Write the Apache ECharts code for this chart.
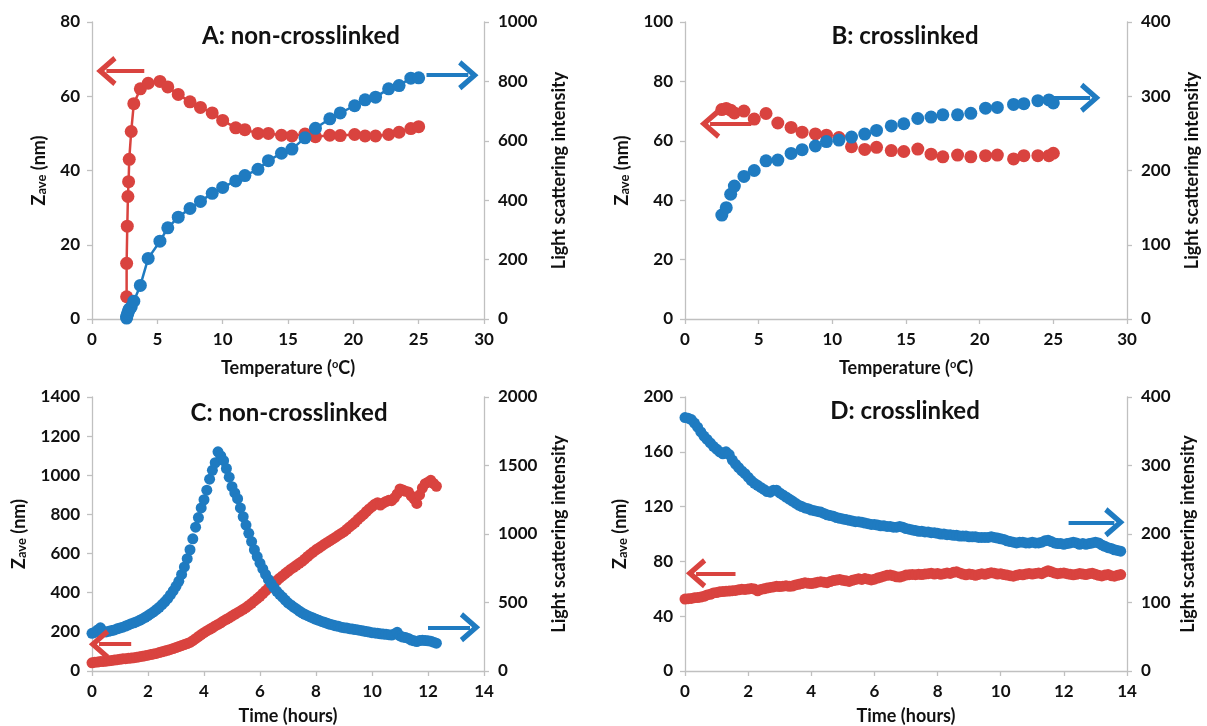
<!DOCTYPE html>
<html>
<head>
<meta charset="utf-8">
<script src="https://cdn.jsdelivr.net/npm/echarts@6/dist/echarts.min.js"></script>
<style>
  html, body { margin: 0; padding: 0; background: #fff; }
  #main { width: 1207px; height: 726px; }
</style>
</head>
<body>
<div id="main"></div>
<script>
// Panel A: non-crosslinked, heating
const tempA = [2.65,2.65,2.7,2.75,2.8,2.85,3.0,3.2,3.7,4.3,5.2,5.8,6.6,7.5,8.3,9.2,10.0,11.0,11.7,12.7,13.5,14.5,15.3,16.3,17.1,18.2,19.0,20.1,20.9,21.7,22.7,23.5,24.4,25.0];
const zaveA = [6,15,25,33,37,43,50.5,58,62,63.5,64,62.5,60.5,58.5,57,55.5,53.5,51.5,51,50,50,49.5,49.3,49.8,49.1,49.5,49.4,49.7,49.3,49.3,49.7,50.3,51.3,51.8];
const lightA = [3,8,14,20,27,33,40,60,113,204,262,307,343,372,396,423,443,465,483,504,533,558,572,610,642,674,694,718,738,747,775,786,811,812];

// Panel B: crosslinked, heating
const tempB = [2.5,2.8,3.1,3.35,4.0,4.7,5.5,6.3,7.2,7.95,8.85,9.6,10.45,11.3,12.2,13.0,14.0,14.85,15.8,16.7,17.5,18.5,19.4,20.4,21.2,22.3,23.0,23.95,24.7,25.0];
const zaveB = [70.5,70.9,70.3,69.4,70,67.3,69.2,66,64.5,62.9,62.3,61.9,61.1,58,57.1,57.8,56.7,56.4,57.2,55.5,54.6,55.2,54.6,55,55.2,53.9,55,55,55,55.8];
const lightB = [140,150,168,179,192,200,213,214,223,228,233,239,241,245,249,254,260,263,270,272,275,275,277,284,285,289,290,294,295,291];

// Panel C: non-crosslinked, time at 25 C
const timeC = [0,0.1,0.2,0.3,0.4,0.5,0.6,0.7,0.8,0.9,1,1.1,1.2,1.3,1.4,1.5,1.6,1.7,1.8,1.9,2,2.1,2.2,2.3,2.4,2.5,2.6,2.7,2.8,2.9,3,3.1,3.2,3.3,3.4,3.5,3.6,3.7,3.8,3.9,4,4.1,4.2,4.3,4.4,4.5,4.6,4.7,4.8,4.9,5,5.1,5.2,5.3,5.4,5.5,5.6,5.7,5.8,5.9,6,6.1,6.2,6.3,6.4,6.5,6.6,6.7,6.8,6.9,7,7.1,7.2,7.3,7.4,7.5,7.6,7.7,7.8,7.9,8,8.1,8.2,8.3,8.4,8.5,8.6,8.7,8.8,8.9,9,9.1,9.2,9.3,9.4,9.5,9.6,9.7,9.8,9.9,10,10.1,10.2,10.3,10.4,10.5,10.6,10.7,10.8,10.9,11,11.1,11.2,11.3,11.4,11.5,11.6,11.7,11.8,11.9,12,12.1,12.2,12.3];
const zaveC = [42,45,46,48,49,50,52,54,56,58,60,62,63,65,66,68,70,73,75,78,81,84,87,90,94,98,102,106,110,115,120,125,130,135,140,146,155,165,176,186,196,205,213,221,230,238,246,256,264,272,281,290,298,306,315,324,335,346,358,370,382,396,410,424,437,450,462,474,486,498,509,520,530,540,550,560,572,585,597,608,619,628,638,648,657,666,675,684,694,703,712,724,736,748,760,775,788,800,815,828,840,852,860,848,858,866,872,870,885,905,930,925,918,915,895,880,856,900,935,957,965,974,958,944];
const lightC = [275,282,300,315,290,285,290,295,300,308,314,320,328,336,345,352,360,370,380,392,405,418,432,448,465,485,505,528,555,585,618,655,705,760,820,885,965,1050,1120,1190,1250,1320,1400,1465,1520,1600,1570,1535,1478,1415,1345,1300,1258,1190,1126,1065,1005,945,885,835,787,745,705,668,637,608,582,560,540,518,498,482,467,453,438,425,414,404,395,386,377,370,362,355,348,341,336,330,326,320,316,313,309,306,303,300,296,292,288,284,280,278,275,272,270,268,265,262,270,282,256,248,244,238,226,220,215,222,225,222,220,218,210,203];

// Panel D: crosslinked, time at 25 C
const timeD = [0,0.1,0.2,0.3,0.4,0.5,0.6,0.7,0.8,0.9,1,1.1,1.2,1.3,1.4,1.5,1.6,1.7,1.8,1.9,2,2.1,2.2,2.3,2.4,2.5,2.6,2.7,2.8,2.9,3,3.1,3.2,3.3,3.4,3.5,3.6,3.7,3.8,3.9,4,4.1,4.2,4.3,4.4,4.5,4.6,4.7,4.8,4.9,5,5.1,5.2,5.3,5.4,5.5,5.6,5.7,5.8,5.9,6,6.1,6.2,6.3,6.4,6.5,6.6,6.7,6.8,6.9,7,7.1,7.2,7.3,7.4,7.5,7.6,7.7,7.8,7.9,8,8.1,8.2,8.3,8.4,8.5,8.6,8.7,8.8,8.9,9,9.1,9.2,9.3,9.4,9.5,9.6,9.7,9.8,9.9,10,10.1,10.2,10.3,10.4,10.5,10.6,10.7,10.8,10.9,11,11.1,11.2,11.3,11.4,11.5,11.6,11.7,11.8,11.9,12,12.1,12.2,12.3,12.4,12.5,12.6,12.7,12.8,12.9,13,13.1,13.2,13.3,13.4,13.5,13.6,13.7,13.8];
const zaveD = [52.5,52.8,53,53.5,53.6,54,54.5,55.5,56,57,57.3,57.8,58,58.3,58.4,58.6,58.8,59.3,59.6,59.5,59.8,60.2,59.8,58.5,59.5,60,60.5,61,61.4,61.8,61.6,61.9,62.2,61.8,62,62.8,63.3,63.8,64.5,64,63.8,64.2,64.8,65.2,64.8,64.5,65.3,66,66.4,66.8,66.2,65.8,65.4,66.2,66.8,67.3,66.8,67.5,67,66.5,67,67.8,68.5,69.2,69.8,70,69.5,68.8,68.6,69.2,70,70.3,70.5,70.3,70.6,70.4,70.8,71,71.4,70.8,71.2,70.6,71,71.6,71.2,72,72.4,71.6,70.8,70.2,70.8,70.4,69.8,70.5,71,70.6,71.2,71.8,71.4,70.8,71,70.4,70,69.6,69.2,69.8,70.4,70.2,70.8,71.2,70.8,71.2,71.6,71,72.2,73.2,72.4,71.6,71,71.4,71.6,71,70.6,70.2,70.6,71.2,70.8,70.4,71,71.4,70.6,69.8,69.4,70,70.4,69.6,69.2,69.8,70.4];
const lightD = [370,369,367,362,356,349,343,338,333,328,324,320,317,320,316,308,302,297,292,288,283,278,274,271,268,265,262,261,264,264,260,257,254,251,248,245,242,240,238,237,235,234,233,232,230,228,227,226,224,223,222,221,220,219,218,218,217,216,215,214,214,213,212,212,211,211,210,210,211,210,208,207,206,205,204,204,203,203,202,202,201,200,200,199,199,198,198,197,197,197,196,196,196,195,195,195,195,196,195,194,193,192,190,189,188,187,188,188,187,187,188,187,187,188,190,191,189,187,186,186,185,186,187,188,187,185,186,185,186,187,188,187,184,182,180,179,177,176,175];

// arrows: [x start, x end, y] in data units
const arrowA = { red: [4.0, 1.1, 66.8], blue: [25.6, 28.8, 821] };
const arrowB = { red: [4.5, 1.7, 65.7], blue: [24.6, 27.5, 298] };
const arrowC = { red: [1.4, 0.25, 137], blue: [12.0, 13.5, 319] };
const arrowD = { red: [1.6, 0.35, 71.3], blue: [12.15, 13.6, 217] };

const RED = '#d9433f';
const BLUE = '#1f7bc1';
const AXIS = '#c0c0c0';
const INK = '#111111';
const FONT = 'Lato';
// open chevron head, pointing up before markLine rotates it
const HEAD = 'path://M0,16 L14,0 L28,16 L24,19 L14,7.5 L4,19 Z';

const pairs = (xs, ys) => xs.map((x, i) => [x, ys[i]]);

const arrow = (a, color) => ({
    silent: true,
    animation: false,
    symbol: ['none', HEAD],
    symbolSize: 30,
    symbolKeepAspect: true,
    label: { show: false },
    lineStyle: { color: color, width: 4, type: 'solid' },
    data: [[{ coord: [a[0], a[2]] }, { coord: [a[1], a[2]] }]]
});

const grids = [
    { left: 92, right: 723, top: 22, bottom: 407 },
    { left: 685, right: 80, top: 22, bottom: 407 },
    { left: 92, right: 723, top: 397, bottom: 54 },
    { left: 685, right: 80, top: 397, bottom: 54 }
];

const tickStyle = { show: true, length: 5, lineStyle: { color: AXIS, width: 1.3 } };
const lineStyle = { show: true, lineStyle: { color: AXIS, width: 1.3 } };
const plain = v => String(v);
const labelStyle = (margin) => ({ fontFamily: FONT, fontSize: 17, fontWeight: 'bold', color: INK, margin: margin, formatter: plain });

const makeX = (g, max, interval, name, gap) => ({
    type: 'value', gridIndex: g, min: 0, max: max, interval: interval,
    axisLine: lineStyle, axisTick: tickStyle, splitLine: { show: false },
    axisLabel: labelStyle(12),
    name: name, nameLocation: 'middle', nameGap: gap, nameMoveOverlap: false,
    nameTextStyle: {
        fontFamily: FONT, fontSize: 18, fontWeight: 'bold', color: INK,
        rich: { sup: { fontFamily: FONT, fontSize: 11, fontWeight: 'bold', color: INK, verticalAlign: 'top', padding: [0, 0, 8, 0] } }
    }
});

const makeYL = (g, max, interval, gap) => ({
    type: 'value', gridIndex: g, position: 'left', min: 0, max: max, interval: interval,
    axisLine: lineStyle, axisTick: tickStyle, splitLine: { show: false },
    axisLabel: labelStyle(12),
    name: '{b|Z}{s|ave}{b| (nm)}', nameLocation: 'middle', nameGap: gap, nameRotate: 90, nameMoveOverlap: false,
    nameTextStyle: {
        fontFamily: FONT, fontSize: 18, fontWeight: 'bold', color: INK,
        rich: {
            b: { fontFamily: FONT, fontSize: 18, fontWeight: 'bold', color: INK, verticalAlign: 'bottom' },
            s: { fontFamily: FONT, fontSize: 13, fontWeight: 'bold', color: INK, verticalAlign: 'bottom' }
        }
    }
});

const makeYR = (g, max, interval, gap) => ({
    type: 'value', gridIndex: g, position: 'right', min: 0, max: max, interval: interval,
    axisLine: lineStyle, axisTick: tickStyle, splitLine: { show: false },
    axisLabel: labelStyle(14),
    name: 'Light scattering intensity', nameLocation: 'middle', nameGap: gap, nameRotate: 90, nameMoveOverlap: false,
    nameTextStyle: { fontFamily: FONT, fontSize: 18, fontWeight: 'bold', color: INK }
});

const dots = (data, xi, yi, color, size, extra) => Object.assign({
    type: 'scatter', xAxisIndex: xi, yAxisIndex: yi, data: data,
    symbol: 'circle', symbolSize: size,
    itemStyle: { color: color, opacity: 1 },
    silent: true
}, extra || {});

const myChart = echarts.init(document.getElementById('main'), null, { renderer: 'canvas' });

const option = {
    animation: false,
    backgroundColor: '#ffffff',
    textStyle: { fontFamily: FONT },
    title: [
        { text: 'A: non-crosslinked', left: 301, top: 24, textAlign: 'center' },
        { text: 'B: crosslinked', left: 905, top: 24, textAlign: 'center' },
        { text: 'C: non-crosslinked', left: 289, top: 401, textAlign: 'center' },
        { text: 'D: crosslinked', left: 905, top: 399, textAlign: 'center' }
    ].map(t => Object.assign(t, {
        padding: 0,
        textStyle: { fontFamily: FONT, fontSize: 24, fontWeight: 'bold', color: INK }
    })),
    grid: grids,
    xAxis: [
        makeX(0, 30, 5, 'Temperature ({sup|o}C)', 40),
        makeX(1, 30, 5, 'Temperature ({sup|o}C)', 40),
        makeX(2, 14, 2, 'Time (hours)', 36),
        makeX(3, 14, 2, 'Time (hours)', 36)
    ],
    yAxis: [
        makeYL(0, 80, 20, 44), makeYR(0, 1000, 200, 66),
        makeYL(1, 100, 20, 54), makeYR(1, 400, 100, 56),
        makeYL(2, 1400, 200, 64), makeYR(2, 2000, 500, 66),
        makeYL(3, 200, 40, 56), makeYR(3, 400, 100, 52)
    ],
    series: [
        {
            type: 'line', xAxisIndex: 0, yAxisIndex: 0, data: pairs(tempA, zaveA),
            symbol: 'circle', symbolSize: 13, showAllSymbol: true,
            lineStyle: { color: RED, width: 2.5 }, itemStyle: { color: RED },
            silent: true, markLine: arrow(arrowA.red, RED)
        },
        {
            type: 'line', xAxisIndex: 0, yAxisIndex: 1, data: pairs(tempA, lightA),
            symbol: 'circle', symbolSize: 13, showAllSymbol: true,
            lineStyle: { color: BLUE, width: 2.5 }, itemStyle: { color: BLUE },
            silent: true, markLine: arrow(arrowA.blue, BLUE)
        },
        dots(pairs(tempB, zaveB), 1, 2, RED, 13, { markLine: arrow(arrowB.red, RED) }),
        dots(pairs(tempB, lightB), 1, 3, BLUE, 13, { markLine: arrow(arrowB.blue, BLUE) }),
        dots(pairs(timeC, zaveC), 2, 4, RED, 11, { markLine: arrow(arrowC.red, RED) }),
        dots(pairs(timeC, lightC), 2, 5, BLUE, 11, { markLine: arrow(arrowC.blue, BLUE) }),
        dots(pairs(timeD, zaveD), 3, 6, RED, 11, { markLine: arrow(arrowD.red, RED) }),
        dots(pairs(timeD, lightD), 3, 7, BLUE, 11, { markLine: arrow(arrowD.blue, BLUE) })
    ]
};

myChart.setOption(option);
window.addEventListener('resize', () => myChart.resize());
</script>
</body>
</html>
